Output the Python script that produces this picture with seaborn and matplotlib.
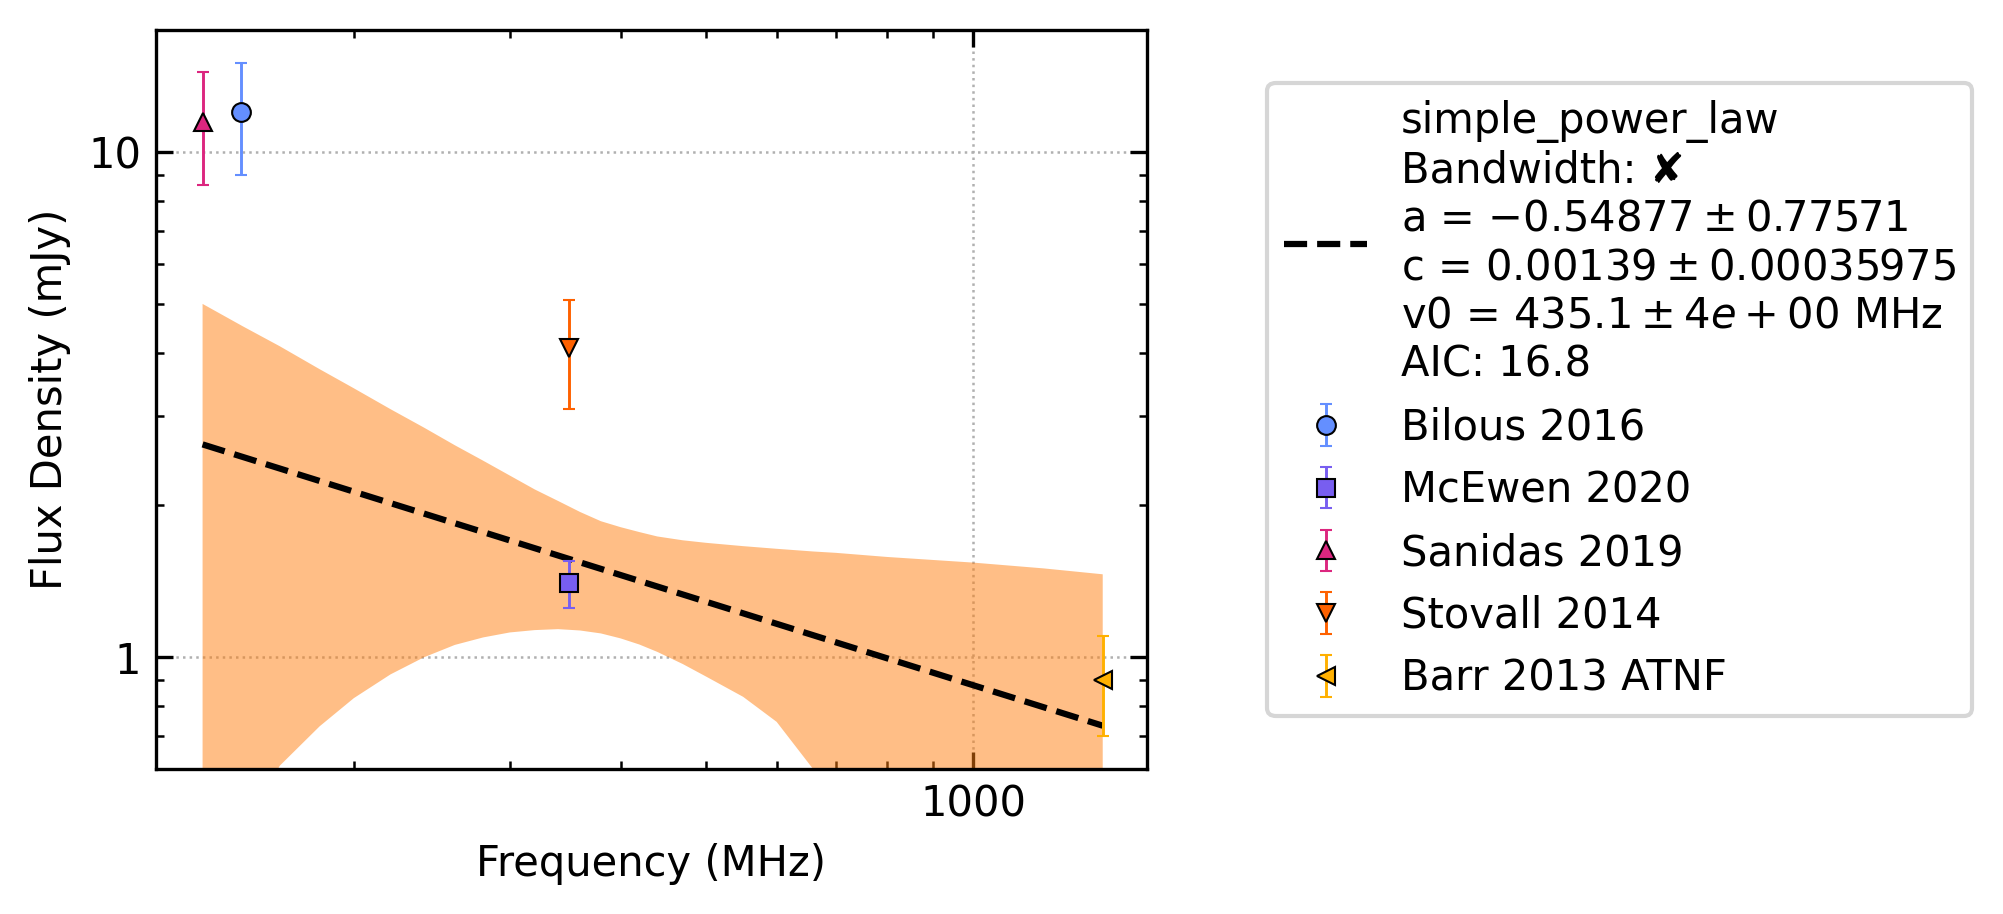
import matplotlib
matplotlib.use("Agg")
import matplotlib.pyplot as plt
import matplotlib.ticker as mticker
import seaborn as sns

# ==============================
# data
# ==============================
labels = ["Bilous 2016", "McEwen 2020", "Sanidas 2019", "Stovall 2014", "Barr 2013 ATNF"]
freqs = [149, 350, 135, 350, 1400]          # MHz
fluxes = [12.0, 1.4, 11.5, 4.1, 0.9]        # mJy
flux_errs = [3.0, 0.15, 2.9, 1.0, 0.2]
markers = ["o", "s", "^", "v", "<"]
colours = ["#648FFF", "#785EF0", "#DC267F", "#FE6100", "#FFB000"]

# fitted power law (straight in log-log), end points
fit_freqs = [135, 1400]
fit_flux = [2.64, 0.732]

# fit uncertainty envelope (values below 0.6 lie off the plot)
band_freqs = [135, 150, 165, 183, 200, 220, 240, 260, 280, 300, 320, 340, 360, 380,
              400, 420, 440, 470, 500, 550, 600, 660, 700, 800, 1000, 1200, 1400]
band_upper = [5.01, 4.52, 4.13, 3.72, 3.41, 3.10, 2.85, 2.63, 2.45, 2.29, 2.15, 2.04, 1.94, 1.86,
              1.81, 1.77, 1.735, 1.705, 1.685, 1.66, 1.64, 1.62, 1.61, 1.58, 1.54, 1.50, 1.46]
band_lower = [0.15, 0.45, 0.61, 0.73, 0.83, 0.925, 1.0, 1.058, 1.095, 1.12, 1.132, 1.137, 1.13, 1.115,
              1.09, 1.06, 1.025, 0.97, 0.915, 0.835, 0.745, 0.60, 0.50, 0.31, 0.18, 0.10, 0.05]

fit_label = ("simple_power_law\n"
             "Bandwidth: \u2718\n"
             r"a = $-0.54877 \pm 0.77571$" "\n"
             r"c = $0.00139 \pm 0.00035975$" "\n"
             r"v0 = $435.1 \pm 4e+00$ MHz" "\n"
             "AIC: 16.8")

# ==============================
# style
# ==============================
sns.set_style("ticks")
plt.rcParams['font.family'] = ['DejaVu Sans']
plt.rcParams['font.size'] = 10
plt.rcParams['text.color'] = 'black'
plt.rcParams['axes.labelcolor'] = 'black'
plt.rcParams['axes.edgecolor'] = 'black'
plt.rcParams['xtick.color'] = 'black'
plt.rcParams['ytick.color'] = 'black'
plt.rcParams['axes.linewidth'] = 0.8

fig, ax = plt.subplots(figsize=(2003 / 300, 914 / 300), dpi=300)
fig.subplots_adjust(left=0.0777, right=0.5728, bottom=0.1583, top=0.9672)
ax.set_xscale('log')
ax.set_yscale('log')

ax.fill_between(band_freqs, band_lower, band_upper, color='#ff7f0e', alpha=0.5,
                linewidth=0, zorder=1)

sns.lineplot(x=fit_freqs, y=fit_flux, ax=ax, color='black', linestyle='--',
             linewidth=1.5, label=fit_label, zorder=2.5)

for lab, f, s, e, m, c in zip(labels, freqs, fluxes, flux_errs, markers, colours):
    ax.errorbar(f, s, yerr=e, fmt=m, color=c, mec='black', mew=0.5, ms=4.5,
                elinewidth=0.7, capsize=1.5, capthick=0.7, label=lab, zorder=3)

ax.set_xlim(119.5, 1572)
ax.set_ylim(0.6, 17.47)

ax.grid(True, which='major', linestyle=':', color='#b0b0b0', linewidth=0.6)

fmt = mticker.FuncFormatter(lambda v, p: f"{v:g}")
ax.xaxis.set_major_formatter(fmt)
ax.yaxis.set_major_formatter(fmt)
ax.xaxis.set_minor_formatter(mticker.NullFormatter())
ax.yaxis.set_minor_formatter(mticker.NullFormatter())
ax.tick_params(which='both', direction='in', top=True, right=True, labelsize=10)
ax.tick_params(which='major', length=4, width=0.8)
ax.tick_params(which='minor', length=2, width=0.6)

ax.set_xlabel('Frequency (MHz)', fontsize=10)
ax.set_ylabel('Flux Density (mJy)', fontsize=10)

handles, labs = ax.get_legend_handles_labels()
ax.legend(handles, labs, loc='center left', bbox_to_anchor=(1.1, 0.5), fontsize=10)

plt.savefig('out.png', dpi=300, facecolor='white')
